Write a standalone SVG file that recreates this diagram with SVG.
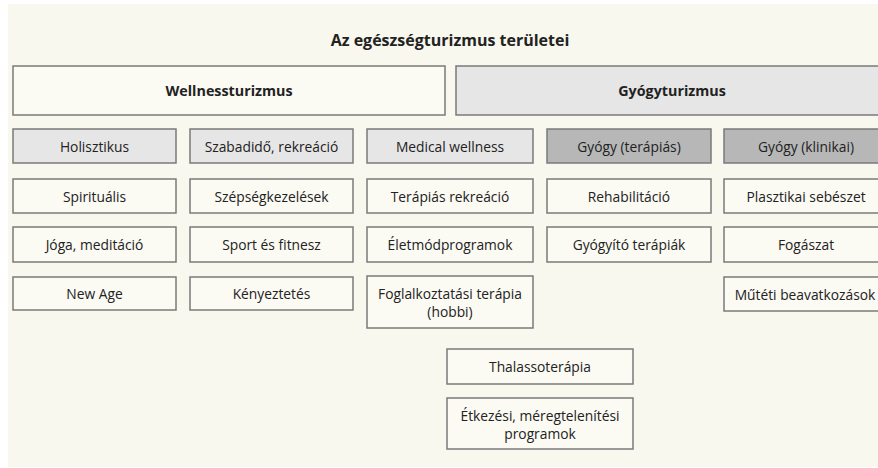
<svg xmlns="http://www.w3.org/2000/svg" width="878" height="468" viewBox="0 0 878 468">
<style>
.bg{fill:#f9f8ee}
.b{stroke:#7a7a7a;stroke-width:1.5;fill:#fbfaf3}
.l{fill:#e6e6e6}
.d{fill:#b7b7b7}
text{font-family:"Open Sans","Noto Sans",sans-serif;font-size:13.8px;fill:#222;text-anchor:middle;dominant-baseline:central}
.h{font-weight:bold;font-size:14.3px}
.t{font-weight:bold;font-size:16px}
</style>
<rect class="bg" x="8" y="4" width="870" height="463"/>
<text class="t" x="450" y="40">Az egészségturizmus területei</text>
<g id="wellness"><rect class="b" x="13" y="66" width="432" height="49"/><text class="h" x="229" y="90.5">Wellnessturizmus</text></g>
<g id="gyogyturizmus"><rect class="b l" x="456" y="66" width="434" height="49"/><text class="h" x="672" y="90.5">Gyógyturizmus</text></g>

<g id="holisztikus"><rect class="b l" x="13" y="129" width="163" height="34"/><text x="94.5" y="146">Holisztikus</text></g>
<g id="szabadido"><rect class="b l" x="190" y="129" width="163" height="34"/><text x="271.5" y="146">Szabadidő, rekreáció</text></g>
<g id="medical"><rect class="b l" x="367" y="129" width="166" height="34"/><text x="450" y="146">Medical wellness</text></g>
<g id="gyogy-terapias"><rect class="b d" x="547" y="129" width="164" height="34"/><text x="629" y="146">Gyógy (terápiás)</text></g>
<g id="gyogy-klinikai"><rect class="b d" x="724" y="129" width="166" height="34"/><text x="806" y="146">Gyógy (klinikai)</text></g>

<g id="spiritualis"><rect class="b" x="13" y="179" width="163" height="34"/><text x="94.5" y="196">Spirituális</text></g>
<g id="szepseg"><rect class="b" x="190" y="179" width="163" height="34"/><text x="271.5" y="196">Szépségkezelések</text></g>
<g id="terapias-rekreacio"><rect class="b" x="367" y="179" width="166" height="34"/><text x="450" y="196">Terápiás rekreáció</text></g>
<g id="rehabilitacio"><rect class="b" x="547" y="179" width="164" height="34"/><text x="629" y="196">Rehabilitáció</text></g>
<g id="plasztikai"><rect class="b" x="724" y="179" width="166" height="34"/><text x="806" y="196">Plasztikai sebészet</text></g>

<g id="joga"><rect class="b" x="13" y="227" width="163" height="35"/><text x="94.5" y="244.5">Jóga, meditáció</text></g>
<g id="sport"><rect class="b" x="190" y="227" width="163" height="35"/><text x="271.5" y="244.5">Sport és fitnesz</text></g>
<g id="eletmod"><rect class="b" x="367" y="227" width="166" height="35"/><text x="450" y="244.5">Életmódprogramok</text></g>
<g id="gyogyito"><rect class="b" x="547" y="227" width="164" height="35"/><text x="629" y="244.5">Gyógyító terápiák</text></g>
<g id="fogaszat"><rect class="b" x="724" y="227" width="166" height="35"/><text x="806" y="244.5">Fogászat</text></g>

<g id="newage"><rect class="b" x="13" y="277" width="163" height="33"/><text x="94.5" y="293.5">New Age</text></g>
<g id="kenyeztetes"><rect class="b" x="190" y="277" width="163" height="33"/><text x="271.5" y="293.5">Kényeztetés</text></g>
<g id="foglalkoztatasi"><rect class="b" x="367" y="276" width="166" height="52"/><text x="450" y="293">Foglalkoztatási terápia</text><text x="450" y="311">(hobbi)</text></g>
<g id="mutet"><rect class="b" x="724" y="277" width="166" height="34"/><text x="805" y="294">Műtéti beavatkozások</text></g>

<g id="thalasso"><rect class="b" x="447" y="349" width="186" height="35"/><text x="540" y="366.5">Thalassoterápia</text></g>
<g id="etkezesi"><rect class="b" x="447" y="398" width="186" height="51"/><text x="540" y="415">Étkezési, méregtelenítési</text><text x="540" y="433">programok</text></g>
<g id="connectors"/>
</svg>
